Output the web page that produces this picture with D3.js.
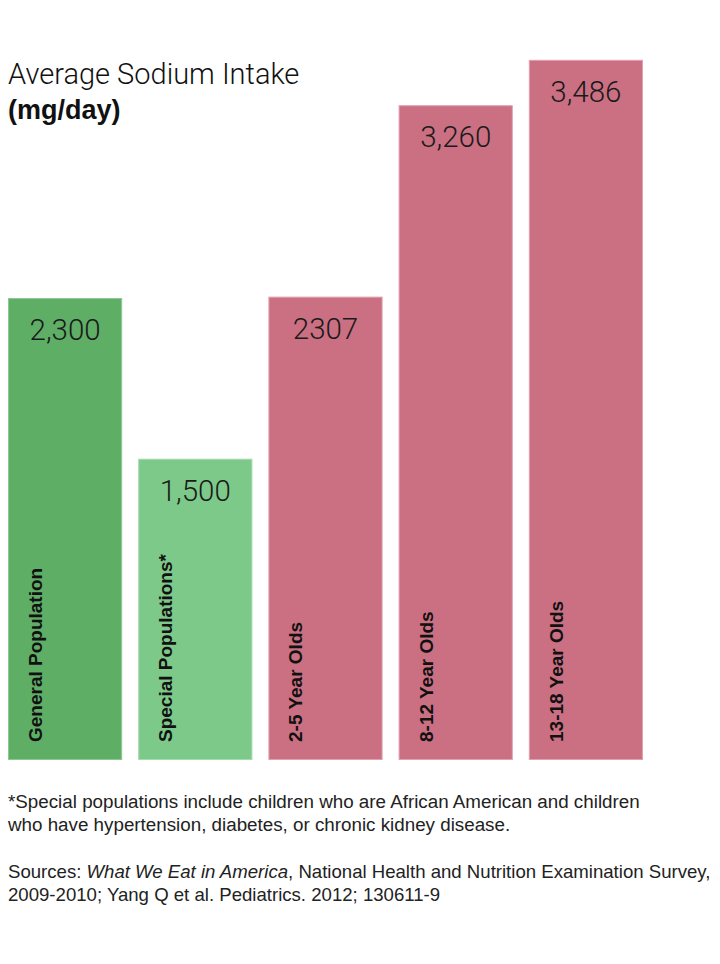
<!DOCTYPE html>
<html>
<head>
<meta charset="utf-8">
<script src="https://cdn.jsdelivr.net/npm/d3@7"></script>
<style>
  body { margin: 0; background: #fff; }
  svg { display: block; }
</style>
</head>
<body>
<div id="chart"></div>
<script>
// chart data
var categories = ["General Population", "Special Populations*", "2-5 Year Olds", "8-12 Year Olds", "13-18 Year Olds"];
var values = [2300, 1500, 2307, 3260, 3486];
var valueLabels = ["2,300", "1,500", "2307", "3,260", "3,486"];
var groups = ["recommended", "recommended-special", "actual", "actual", "actual"];

var footnoteLines = [
    "*Special populations include children who are African American and children",
    "who have hypertension, diabetes, or chronic kidney disease."
];

var width = 720, height = 964;

var colors = {
    "recommended": "#5fae66",
    "recommended-special": "#7dc98a",
    "actual": "#cb6f83"
};
var strokeColors = {
    "recommended": "#8cc893",
    "recommended-special": "#a3dbac",
    "actual": "#e0a0ae"
};

var lightFont = "Roboto, 'Liberation Sans', sans-serif";
var font = "'Liberation Sans', Arial, sans-serif";

var svg = d3.select("#chart")
    .append("svg")
    .attr("width", width)
    .attr("height", height)
    .attr("viewBox", "0 0 " + width + " " + height);

var x = d3.scaleBand()
    .domain(categories)
    .range([8, 643])
    .paddingInner(0.123)
    .paddingOuter(0);

var y = d3.scaleLinear()
    .domain([0, 3500])
    .range([760, 57]);

var bars = svg.selectAll("g.bar")
    .data(categories)
    .enter()
    .append("g")
    .attr("class", "bar");

bars.append("rect")
    .attr("x", function (d) { return x(d) + 0.5; })
    .attr("y", function (d, i) { return y(values[i]) + 0.5; })
    .attr("width", x.bandwidth() - 1)
    .attr("height", function (d, i) { return y(0) - y(values[i]) - 1; })
    .attr("fill", function (d, i) { return colors[groups[i]]; })
    .attr("stroke", function (d, i) { return strokeColors[groups[i]]; })
    .attr("stroke-width", 1);

// value labels near the top of each bar
bars.append("text")
    .attr("x", function (d) { return x(d) + x.bandwidth() / 2; })
    .attr("y", function (d, i) { return y(values[i]) + 42; })
    .attr("text-anchor", "middle")
    .style("font-family", lightFont)
    .style("font-weight", 300)
    .style("font-size", "29.5px")
    .attr("fill", "#1a1a1a")
    .text(function (d, i) { return valueLabels[i]; });

// rotated category names at the bottom
bars.append("text")
    .attr("transform", function (d) {
        return "translate(" + (x(d) + 34) + "," + 742 + ") rotate(-90)";
    })
    .attr("text-anchor", "start")
    .style("font-family", font)
    .style("font-weight", "bold")
    .style("font-size", "19px")
    .attr("fill", "#111")
    .text(function (d) { return d; });

// title
svg.append("text")
    .attr("x", 8)
    .attr("y", 84)
    .style("font-family", lightFont)
    .style("font-weight", 300)
    .style("font-size", "29px")
    .attr("fill", "#111")
    .text("Average Sodium Intake");

svg.append("text")
    .attr("x", 8)
    .attr("y", 119)
    .style("font-family", font)
    .style("font-weight", "bold")
    .style("font-size", "27px")
    .attr("fill", "#111")
    .text("(mg/day)");

// footnotes
svg.selectAll("text.note")
    .data(footnoteLines)
    .enter()
    .append("text")
    .attr("class", "note")
    .attr("x", 8)
    .attr("y", function (d, i) { return 808 + i * 23; })
    .style("font-family", font)
    .style("font-size", "18.8px")
    .attr("fill", "#222")
    .text(function (d) { return d; });

var src1 = svg.append("text")
    .attr("class", "src")
    .attr("x", 8)
    .attr("y", 878)
    .style("font-family", font)
    .style("font-size", "18.6px")
    .attr("fill", "#222");
src1.append("tspan").text("Sources: ");
src1.append("tspan").style("font-style", "italic").text("What We Eat in America");
src1.append("tspan").text(", National Health and Nutrition Examination Survey,");

svg.append("text")
    .attr("class", "src")
    .attr("x", 8)
    .attr("y", 901)
    .style("font-family", font)
    .style("font-size", "18.6px")
    .attr("fill", "#222")
    .text("2009-2010; Yang Q et al. Pediatrics. 2012; 130611-9");
</script>
</body>
</html>
